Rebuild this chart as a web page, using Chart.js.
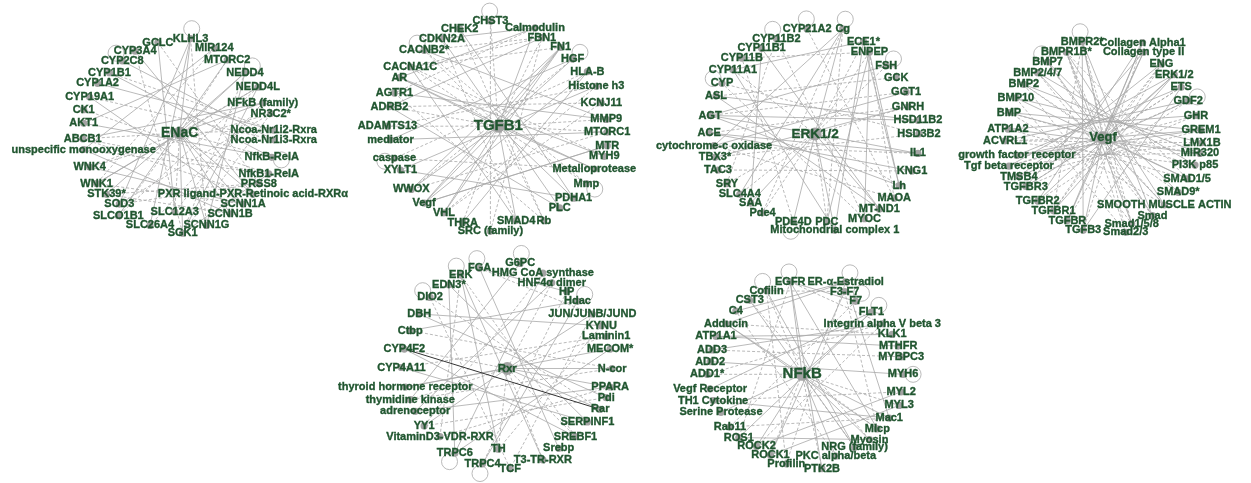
<!DOCTYPE html>
<html>
<head>
<meta charset="utf-8">
<script src="https://cdn.jsdelivr.net/npm/chart.js@4.4.1/dist/chart.umd.min.js"></script>
<style>
  html, body { margin: 0; padding: 0; background: #ffffff; }
  #wrap { width: 1251px; height: 483px; }
</style>
</head>
<body>
<div id="wrap"><canvas id="net" width="1251" height="483"></canvas></div>
<script>
// ---- ENaC network ----
const enacLabels = ['KLHL3','MIR124','MTORC2','NEDD4','NEDD4L','NFkB (family)','NR3C2*','Ncoa-Nr1i2-Rxra','Ncoa-Nr1i3-Rxra','NfkB-RelA','NfkB1-RelA','PRSS8','PXR ligand-PXR-Retinoic acid-RXRα','SCNN1A','SCNN1B','SCNN1G','SGK1','SLC12A3','SLC26A4','SLCO1B1','SOD3','STK39*','WNK1','WNK4','unspecific monooxygenase','ABCB1','AKT1','CK1','CYP19A1','CYP1A2','CYP1B1','CYP2C8','CYP3A4','GCLC','ENaC'];
const enacX = [186,210,223,241,254,259,267,270,270,268,265,255,249,239,226,202,178,170,145,113,114,101,91,84,78,77,78,78,84,92,104,117,130,153,175];
const enacY = [33,43,55,68,83,99,110,127,137,155,172,182,193,203,213,225,233,211,225,215,203,193,182,165,147,136,120,106,93,79,68,56,46,37,130];
const enacSolid = [[34,0],[34,3],[34,13],[34,14],[34,15],[34,16],[34,22],[34,5],[34,12],[0,20],[0,18],[1,24],[2,26],[3,21],[4,22],[5,25],[7,29],[8,31],[9,26],[12,32],[13,23],[16,4],[16,10],[19,2],[28,13],[30,9],[33,17],[15,3],[24,14]];
const enacDashed = [[34,4],[34,17],[34,23],[34,25],[34,7],[34,9],[34,2],[34,19],[0,15],[1,22],[3,16],[4,19],[5,18],[6,23],[6,20],[7,30],[8,28],[10,27],[10,24],[11,21],[11,33],[12,25],[13,22],[14,21],[16,6],[17,5],[20,11],[32,16],[25,10]];
const enacLoops = [0,3,9,31];

// ---- TGFB1 network ----
const tgfLabels = ['CHST3','Calmodulin','FBN1','FN1','HGF','HLA-B','Histone h3','KCNJ11','MMP9','MTORC1','MTR','MYH9','Metalloprotease','Mmp','PDHA1','PLC','Rb','SMAD4','SRC (family)','THRA','VHL','Vegf','WWOX','XYLT1','caspase','mediator','ADAMTS13','ADRB2','AGTR1','AR','CACNA1C','CACNB2*','CDKN2A','CHEK2','TGFB1'];
const tgfX = [489,534,541,560,572,587,596,601,606,607,607,604,594,586,573,559,543,515,489,461,442,422,409,398,392,388,385,387,392,397,408,422,440,458,497];
const tgfY = [15,22,32,42,54,67,82,99,116,129,143,154,167,182,197,207,220,220,231,222,212,202,188,168,156,137,123,103,89,73,62,45,33,23,123];
const tgfSolid = [[34,3],[34,4],[34,12],[34,21],[34,22],[34,29],[34,1],[34,17],[34,20],[34,14],[3,21],[3,20],[3,22],[1,29],[2,27],[4,25],[6,23],[8,28],[10,21],[12,29],[15,32],[17,30],[19,5],[21,10],[23,14],[25,9],[27,15],[29,11],[31,8],[33,14],[1,32],[5,21]];
const tgfDashed = [[34,13],[34,30],[34,31],[34,2],[34,8],[34,9],[34,16],[34,26],[34,27],[34,0],[34,19],[1,28],[2,31],[5,24],[7,27],[9,22],[11,30],[13,31],[16,33],[18,2],[20,7],[22,4],[24,12],[26,6],[28,16],[30,3],[32,17],[0,18],[2,30],[6,20]];
const tgfLoops = [0,4,13,31,24];

// ---- ERK1/2 network ----
const erkLabels = ['Cg','ECE1*','ENPEP','FSH','GCK','GGT1','GNRH','HSD11B2','HSD3B2','IL1','KNG1','Lh','MAOA','MT-ND1','MYOC','Mitochondrial complex 1','PDC','PDE4D','Pde4','SAA','SLC4A4','SRY','TAC3','TBX3*','cytochrome-c oxidase','ACE','AGT','ASL','CYP','CYP11A1','CYP11B','CYP11B1','CYP11B2','CYP21A2','ERK1/2'];
const erkX = [845,866,872,889,899,909,911,921,922,921,915,902,897,882,867,837,829,795,764,752,741,728,719,716,715,710,711,717,723,734,743,763,778,809,817];
const erkY = [23,36,47,61,73,88,103,117,131,151,169,184,197,208,218,230,221,221,212,202,193,182,168,155,143,130,112,92,79,65,53,43,33,23,131];
const erkSolid = [[34,0],[34,15],[34,17],[34,19],[34,13],[34,26],[34,9],[0,24],[0,20],[1,15],[2,11],[2,16],[3,26],[5,24],[7,26],[9,25],[11,26],[13,27],[15,29],[19,31],[23,6],[25,10],[27,7],[29,1],[31,13],[1,11],[2,14]];
const erkDashed = [[34,1],[34,2],[34,16],[34,18],[34,20],[34,21],[34,29],[34,11],[34,3],[34,6],[0,18],[2,12],[4,27],[6,25],[8,23],[10,22],[12,24],[14,28],[17,30],[21,32],[24,9],[26,5],[28,8],[30,2],[32,14],[33,12],[0,16]];
const erkLoops = [33,0,28,3,17,32];

// ---- Vegf network ----
const vegfLabels = ['BMPR2*','Collagen Alpha1','Collagen type II','ENG','ERK1/2','ETS','GDF2','GHR','GREM1','LMX1B','MIR320','PI3K p85','SMAD1/5','SMAD9*','SMOOTH MUSCLE ACTIN','Smad','Smad1/5/8','Smad2/3','TGFB3','TGFBR','TGFBR1','TGFBR2','TGFBR3','TMSB4','Tgf beta receptor','growth factor receptor','ACVRL1','ATP1A2','BMP','BMP10','BMP2','BMP2/4/7','BMP7','BMPR1B*','Vegf'];
const vegfX = [1087,1148,1149,1167,1180,1187,1194,1202,1207,1208,1206,1201,1193,1184,1170,1158,1137,1131,1088,1072,1058,1042,1030,1023,1013,1021,1009,1012,1013,1020,1028,1042,1052,1071,1108];
const vegfY = [36,37,47,59,70,83,97,112,127,140,151,163,177,191,204,215,223,232,230,220,210,200,185,175,164,153,138,126,109,94,80,68,57,47,135];
const vegfSolid = [[34,0],[34,1],[34,4],[34,8],[34,12],[34,15],[34,18],[34,22],[34,25],[34,28],[34,32],[34,2],[0,18],[0,15],[33,14],[32,13],[31,11],[30,10],[29,9],[28,8],[27,7],[26,6],[25,5],[24,4],[23,3],[22,2],[21,1],[20,4],[19,1],[18,5],[16,33],[14,31],[12,29],[10,27],[8,25],[6,23],[4,21],[2,19]];
const vegfDashed = [[34,3],[34,6],[34,10],[34,14],[34,16],[34,20],[34,24],[34,26],[34,30],[34,33],[34,5],[0,16],[0,20],[33,12],[33,17],[31,15],[30,16],[29,17],[28,14],[27,12],[26,11],[25,10],[24,9],[23,8],[22,7],[21,6],[19,3],[17,0],[15,32],[13,30],[11,28],[9,26],[7,24],[5,22],[3,20],[1,18]];
const vegfLoops = [0,6,32];

// ---- Rxr network ----
const rxrLabels = ['G6PC','HMG CoA synthase','HNF4α dimer','HP','Hdac','JUN/JUNB/JUND','KYNU','Laminin1','MECOM*','N-cor','PPARA','Pdi','Rar','SERPINF1','SREBF1','Srebp','T3-TR-RXR','TCF','TRPC4','TH','TRPC6','VitaminD3-VDR-RXR','YY1','adrenoceptor','thymidine kinase','thyroid hormone receptor','CYP4A11','CYP4F2','Ctbp','DBH','DIO2','EDN3*','ERK','FGA','Rxr'];
const rxrX = [519,542,551,566,577,592,601,606,610,612,610,606,600,587,575,558,542,509,481,497,453,438,422,413,408,403,399,402,408,417,428,447,459,478,506];
const rxrY = [264,274,284,293,303,316,328,339,352,372,391,402,414,427,442,454,466,475,470,455,459,442,431,416,404,391,371,352,333,316,299,286,276,269,372];
const rxrSolid = [[34,9],[34,10],[34,12],[34,25],[34,22],[34,5],[32,19],[32,16],[31,20],[33,3],[1,20],[2,23],[4,28],[6,29],[8,25],[10,23],[13,31],[15,33],[18,4],[20,8],[26,13],[29,11],[0,24],[27,14]];
const rxrDashed = [[34,14],[34,16],[34,27],[34,2],[34,19],[32,21],[33,5],[1,22],[3,18],[5,17],[7,26],[9,24],[11,22],[14,32],[17,30],[19,6],[21,10],[28,9],[30,12],[24,7]];
const rxrDirect = [[27,12]];
const rxrLoops = [0,30,32,33,4,18,20];

// ---- NFkB network ----
const nfkbLabels = ['EGFR','ER-α-Estradiol','F3-F7','F7','FLT1','Integrin alpha V beta 3','KLK1','MTHFR','MYBPC3','MYH6','MYL2','MYL3','Mac1','Mlcp','Myosin','NRG (family)','PKC alpha/beta','PTK2B','Profilin','ROCK1','ROCK2','ROS1','Rab11','Serine Protease','TH1 Cytokine','Vegf Receptor','ADD1*','ADD2','ADD3','ATP1A1','Adducin','C4','CST3','Cofilin','NFkB'];
const nfkbX = [792,848,847,858,874,885,895,901,904,906,904,902,892,880,872,857,838,824,788,772,758,740,731,722,714,711,708,711,713,717,727,737,751,768,804];
const nfkbY = [283,283,293,303,314,326,337,349,360,378,396,410,423,434,445,453,462,475,470,461,452,443,432,417,405,393,378,365,353,339,326,313,302,292,378];
const nfkbSolid = [[34,0],[34,4],[34,14],[34,16],[34,20],[34,23],[34,30],[34,12],[0,3],[0,13],[1,30],[4,25],[5,28],[6,29],[10,20],[11,19],[13,30],[14,21],[15,32],[17,0],[19,2],[21,4],[24,12],[27,9],[29,7],[31,1],[33,15],[1,12]];
const nfkbDashed = [[34,13],[34,15],[34,17],[34,19],[34,26],[34,33],[34,11],[0,5],[0,21],[2,33],[5,26],[10,24],[12,22],[16,31],[18,1],[20,5],[22,3],[28,8],[30,6],[32,14],[33,18],[2,13]];
const nfkbLoops = [0,1,4,33,3,9];

// ---- assemble networks (hub is the last node of each) ----
const networks = [
  { labels: enacLabels, x: enacX, y: enacY, solid: enacSolid, dashed: enacDashed, direct: [], loops: enacLoops, hubSize: 14 },
  { labels: tgfLabels,  x: tgfX,  y: tgfY,  solid: tgfSolid,  dashed: tgfDashed,  direct: [], loops: tgfLoops,  hubSize: 15 },
  { labels: erkLabels,  x: erkX,  y: erkY,  solid: erkSolid,  dashed: erkDashed,  direct: [], loops: erkLoops,  hubSize: 13.5 },
  { labels: vegfLabels, x: vegfX, y: vegfY, solid: vegfSolid, dashed: vegfDashed, direct: [], loops: vegfLoops, hubSize: 13 },
  { labels: rxrLabels,  x: rxrX,  y: rxrY,  solid: rxrSolid,  dashed: rxrDashed,  direct: rxrDirect, loops: rxrLoops, hubSize: 11.5 },
  { labels: nfkbLabels, x: nfkbX, y: nfkbY, solid: nfkbSolid, dashed: nfkbDashed, direct: [], loops: nfkbLoops, hubSize: 15 }
];

const EDGE = '#a8a8a8';
const NODE = '#a3a3a3';
const TEXT = '#215630';

function edgePoints(net, pairs) {
  const pts = [];
  for (const [a, b] of pairs) {
    pts.push({ x: net.x[a], y: net.y[a] }, { x: net.x[b], y: net.y[b] }, { x: null, y: null });
  }
  return pts;
}

const datasets = [];
networks.forEach((net) => {
  datasets.push({
    data: edgePoints(net, net.solid), showLine: true, spanGaps: false,
    borderColor: EDGE, borderWidth: 0.8, pointRadius: 0, order: 3
  });
  datasets.push({
    data: edgePoints(net, net.dashed), showLine: true, spanGaps: false,
    borderColor: EDGE, borderWidth: 0.8, borderDash: [3, 2], pointRadius: 0, order: 3
  });
  if (net.direct.length) {
    datasets.push({
      data: edgePoints(net, net.direct), showLine: true, spanGaps: false,
      borderColor: '#333333', borderWidth: 1, pointRadius: 0, order: 2
    });
  }
  const hub = net.labels.length - 1;
  datasets.push({
    data: net.x.map((v, i) => ({ x: v, y: net.y[i] })),
    showLine: false,
    pointRadius: net.x.map((v, i) => (i === hub ? 6.5 : 3.6)),
    pointBackgroundColor: NODE, pointBorderColor: NODE, pointBorderWidth: 0,
    order: 1
  });
});

// self-loops and node names, placed through the chart's scales
const networkText = {
  id: 'networkText',
  afterDatasetsDraw(chart) {
    const { ctx, scales } = chart;
    const sx = scales.x, sy = scales.y;
    ctx.save();
    networks.forEach((net) => {
      const hub = net.labels.length - 1;
      const hx = sx.getPixelForValue(net.x[hub]);
      const hy = sy.getPixelForValue(net.y[hub]);
      ctx.strokeStyle = EDGE;
      ctx.lineWidth = 0.8;
      net.loops.forEach((i) => {
        const px = sx.getPixelForValue(net.x[i]);
        const py = sy.getPixelForValue(net.y[i]);
        const dx = px - hx, dy = py - hy;
        const len = Math.hypot(dx, dy) || 1;
        ctx.beginPath();
        ctx.arc(px + dx / len * 10, py + dy / len * 10, 8, 0, Math.PI * 2);
        ctx.stroke();
      });
      ctx.fillStyle = TEXT;
      ctx.strokeStyle = TEXT;
      ctx.lineWidth = 0.35;
      ctx.textAlign = 'center';
      ctx.textBaseline = 'middle';
      net.labels.forEach((name, i) => {
        const px = sx.getPixelForValue(net.x[i]);
        const py = sy.getPixelForValue(net.y[i]);
        const size = i === hub ? net.hubSize : 11;
        ctx.font = 'bold ' + size + 'px "Liberation Sans", Arial, sans-serif';
        ctx.fillText(name, px, py);
        ctx.strokeText(name, px, py);
      });
    });
    ctx.restore();
  }
};

new Chart(document.getElementById('net'), {
  type: 'scatter',
  data: { datasets },
  options: {
    responsive: false,
    animation: false,
    events: [],
    layout: { padding: 0 },
    scales: {
      x: { type: 'linear', min: 0, max: 1251, display: false },
      y: { type: 'linear', min: 0, max: 483, reverse: true, display: false }
    },
    plugins: { legend: { display: false }, tooltip: { enabled: false } }
  },
  plugins: [networkText]
});
</script>
</body>
</html>
